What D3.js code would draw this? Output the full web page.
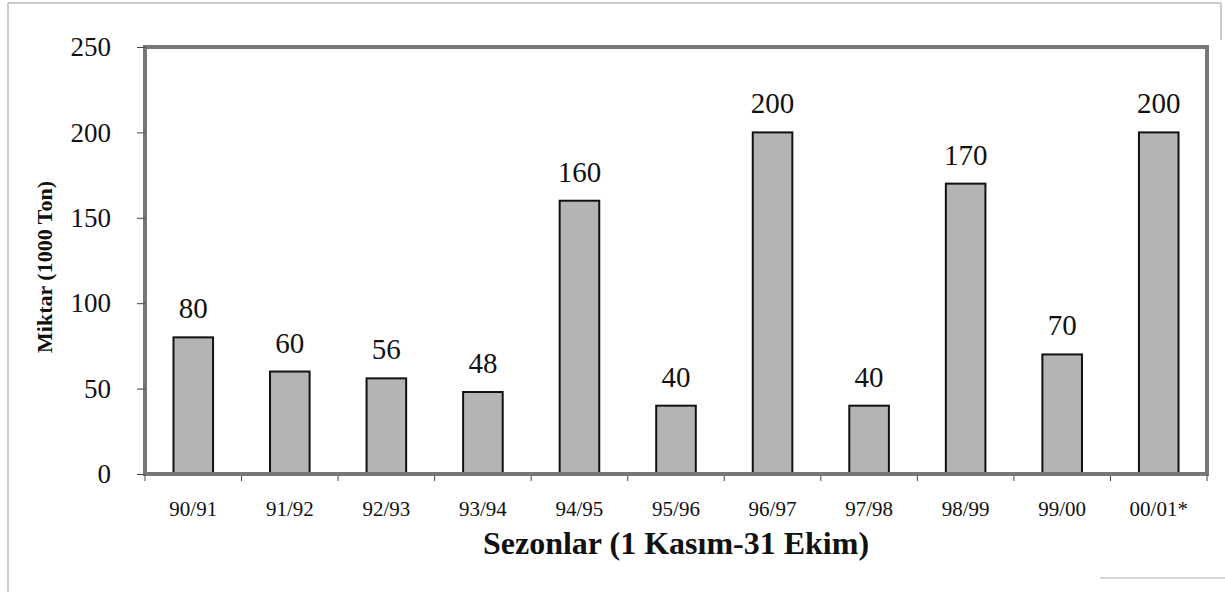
<!DOCTYPE html>
<html>
<head>
<meta charset="utf-8">
<script src="https://cdn.jsdelivr.net/npm/d3@7"></script>
<style>
  body { margin: 0; background: #fff; }
  text { font-family: "Liberation Serif", "Times New Roman", serif; fill: #111; }
</style>
</head>
<body>
<svg id="chart" width="1225" height="595"></svg>
<script>
// data
var seasons = ["90/91", "91/92", "92/93", "93/94", "94/95", "95/96", "96/97", "97/98", "98/99", "99/00", "00/01*"];
var amounts = [80, 60, 56, 48, 160, 40, 200, 40, 170, 70, 200];
var yTicks  = [0, 50, 100, 150, 200, 250];

var margin = {left: 145, right: 18, top: 47, bottom: 121};
var W = 1225, H = 595;
var iw = W - margin.left - margin.right, ih = H - margin.top - margin.bottom;
var serif = "Liberation Serif";

var svg = d3.select("#chart");

// scanned page frame
svg.append("path")
  .attr("d", "M8,592 L8,3 L1221,3 L1221,40")
  .attr("fill", "none").attr("stroke", "#999").attr("stroke-width", 1);
svg.append("line").attr("x1", 1100).attr("x2", 1225).attr("y1", 578).attr("y2", 578)
  .attr("stroke", "#aaa").attr("stroke-width", 1);

var g = svg.append("g").attr("transform", "translate(" + margin.left + "," + margin.top + ")");

var x = d3.scaleBand().domain(seasons).range([0, iw]).paddingInner(0.59).paddingOuter(0.295);
var y = d3.scaleLinear().domain([0, 250]).range([ih, 0]);

// plot border
g.append("rect")
  .attr("x", 0).attr("y", 0).attr("width", iw).attr("height", ih)
  .attr("fill", "none").attr("stroke", "#777").attr("stroke-width", 4);

// y axis
var yAxis = g.append("g").call(d3.axisLeft(y).tickValues(yTicks).tickSize(8).tickPadding(26));
yAxis.select(".domain").remove();
yAxis.selectAll("line").attr("stroke", "#444");
yAxis.selectAll("text").attr("font-size", 27).attr("font-family", serif).attr("fill", "#111");

// x axis ticks between categories
var xTickPos = d3.range(seasons.length + 1).map(function(i){ return i * iw / seasons.length; });
g.selectAll(".xtick").data(xTickPos).enter().append("line")
  .attr("x1", function(d){ return d; }).attr("x2", function(d){ return d; })
  .attr("y1", ih).attr("y2", ih + 7).attr("stroke", "#444");

g.selectAll(".xlabel").data(seasons).enter().append("text")
  .attr("x", function(d){ return x(d) + x.bandwidth() / 2; })
  .attr("y", ih + 42)
  .attr("text-anchor", "middle").attr("font-size", 21).attr("font-family", serif)
  .text(function(d){ return d; });

// bars
g.selectAll(".bar").data(amounts).enter().append("rect")
  .attr("x", function(d, i){ return x(seasons[i]); })
  .attr("y", function(d){ return y(d); })
  .attr("width", x.bandwidth())
  .attr("height", function(d){ return ih - y(d); })
  .attr("fill", "#b4b4b4").attr("stroke", "#111").attr("stroke-width", 2);

// value labels
g.selectAll(".val").data(amounts).enter().append("text")
  .attr("x", function(d, i){ return x(seasons[i]) + x.bandwidth() / 2; })
  .attr("y", function(d){ return y(d) - 19; })
  .attr("text-anchor", "middle").attr("font-size", 29).attr("font-family", serif)
  .text(function(d){ return d; });

// bottom axis line on top of bars
g.append("line").attr("x1", 0).attr("x2", iw).attr("y1", ih).attr("y2", ih)
  .attr("stroke", "#777").attr("stroke-width", 4);

// titles
svg.append("text")
  .attr("x", margin.left + iw / 2).attr("y", 554)
  .attr("text-anchor", "middle").attr("font-size", 32).attr("font-weight", "bold")
  .attr("font-family", serif)
  .text("Sezonlar (1 Kasım-31 Ekim)");

svg.append("text")
  .attr("transform", "translate(52,267) rotate(-90)")
  .attr("text-anchor", "middle").attr("font-size", 22).attr("font-weight", "bold")
  .attr("font-family", serif)
  .text("Miktar (1000 Ton)");
</script>
</body>
</html>
